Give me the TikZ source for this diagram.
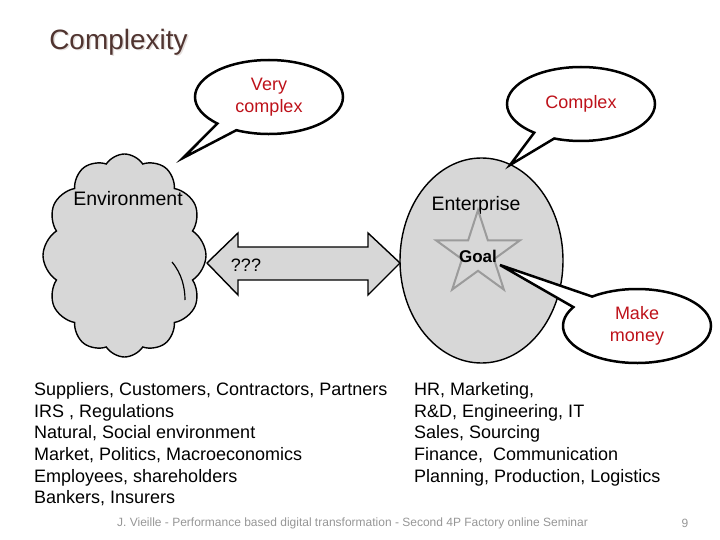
\documentclass[tikz,border=0pt]{standalone}
\usepackage{fontspec}
\setmainfont{Liberation Sans}
\usetikzlibrary{shapes.geometric,shapes.symbols,shapes.callouts}
\definecolor{redtxt}{RGB}{190,18,26}
\definecolor{titlec}{RGB}{80,52,48}
\definecolor{shadowc}{RGB}{228,222,220}
\definecolor{shapegray}{RGB}{215,215,215}
\definecolor{stargray}{RGB}{155,155,155}
\definecolor{footgray}{RGB}{150,150,150}
\tikzset{
  body/.style={font=\fontsize{18}{21.6}\selectfont, inner sep=0pt},
  big/.style={font=\fontsize{19.5}{23}\selectfont, inner sep=0pt},
  bubble/.style={ellipse callout, draw=black, line width=2.5pt, fill=white,
    minimum width=148pt, minimum height=74pt, inner sep=0pt, align=center,
    text=redtxt, font=\fontsize{18}{21.6}\selectfont, callout pointer arc=18},
  grayshape/.style={draw=black, line width=1.4pt, fill=shapegray},
  innerarc/.style={line width=1.2pt},
  listtext/.style={body, align=left, anchor=north west},
  foot/.style={font=\fontsize{12}{14}\selectfont, text=footgray, inner sep=0pt}
}
\begin{document}
\begin{tikzpicture}[x=1pt,y=-1pt]
\useasboundingbox (0,0) rectangle (720,540);
% title
\node[font=\fontsize{28}{32}\selectfont, text=shadowc, inner sep=0pt] at (120,43.5) {Complexity};
\node[font=\fontsize{28}{32}\selectfont, text=titlec, inner sep=0pt] (title) at (118.5,42) {Complexity};

% environment cloud
\node[cloud, grayshape, cloud puffs=12, cloud puff arc=115, aspect=0.8,
      minimum width=163pt, minimum height=203pt, inner sep=0pt] (env) at (124.5,255.5) {};
\draw[innerarc] (172,262) .. controls (182,274) and (185,288) .. (185,300);
\node[big] (envlabel) at (128,199) {Environment};

% double arrow
\draw[grayshape] (207,263) -- (238,233) -- (238,247) -- (368,247) -- (368,233) -- (400,263)
  -- (368,295) -- (368,280) -- (238,280) -- (238,295) -- cycle;
\node[body] (qqq) at (246,265) {???};

% enterprise
\node[ellipse, grayshape, minimum width=163pt, minimum height=205pt, inner sep=0pt] (ent) at (481.5,260.5) {};
\node[big] (entlabel) at (476,205) {Enterprise};
\node[star, star points=5, star point ratio=2.618, draw=stargray, line width=2pt,
      minimum size=88pt, inner sep=0pt] (star) at (478,254) {};
\node[font=\bfseries\fontsize{17}{20}\selectfont, inner sep=0pt] (goal) at (478,256) {Goal};

% callouts
\coordinate (vctip) at (183,158);
\coordinate (ctip) at (510,165);
\coordinate (mtip) at (500,265);
\node[bubble, callout absolute pointer={(vctip)}] (vc) at (269,97) {Very\\complex};
\node[bubble, callout absolute pointer={(ctip)}] (cx) at (581,104) {Complex};
\node[bubble, callout absolute pointer={(mtip)}, callout pointer arc=22] (mm) at (637,326) {Make\\money};

% lists
\node[listtext] (left) at (34,382.5) {Suppliers, Customers, Contractors, Partners\\
IRS , Regulations\\
Natural, Social environment\\
Market, Politics, Macroeconomics\\
Employees, shareholders\\
Bankers, Insurers};
\node[listtext] (right) at (414,382.5) {HR, Marketing,\\
R\&D, Engineering, IT\\
Sales, Sourcing\\
Finance,\ \ Communication\\
Planning, Production, Logistics};

% footer
\node[foot] (footer) at (352.5,523) {J. Vieille - Performance based digital transformation - Second 4P Factory online Seminar};
\node[foot] (page) at (685,523) {9};
\end{tikzpicture}
\end{document}
